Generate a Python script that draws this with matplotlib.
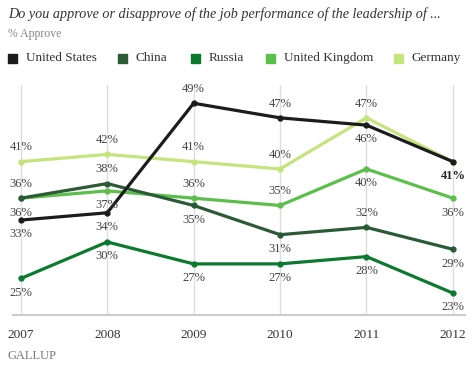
import matplotlib
matplotlib.use("Agg")
import matplotlib.pyplot as plt
from matplotlib.patches import Rectangle

years = [2007, 2008, 2009, 2010, 2011, 2012]
united_states = [33, 34, 49, 47, 46, 41]
china = [36, 38, 35, 31, 32, 29]
russia = [25, 30, 27, 27, 28, 23]
united_kingdom = [36, 37, 36, 35, 40, 36]
germany = [41, 42, 41, 40, 47, 41]

names = ["United States", "China", "Russia", "United Kingdom", "Germany"]
colors = ["#1c1c1c", "#2b5a37", "#0b7a2f", "#5cbf4c", "#c4e47c"]

# label placement per point: 1 above, -1 below, 0 none
us_pos = [-1, -1, 1, 1, -1, -1]
china_pos = [1, 1, -1, -1, 1, -1]
russia_pos = [-1, -1, -1, -1, -1, -1]
uk_pos = [-1, -1, 1, 1, -1, -1]
germany_pos = [1, 1, 1, 1, 1, 0]

series = [united_states, china, russia, united_kingdom, germany]
positions = [us_pos, china_pos, russia_pos, uk_pos, germany_pos]

serif = ["Liberation Serif"]
txt = "#444444"

fig = plt.figure(figsize=(4.74, 3.72), dpi=100)
ax = fig.add_axes([13 / 474, 1 - 315 / 372, 452 / 474, 230 / 372])

for x in years:
    ax.axvline(x, color="#dddddd", lw=1, zorder=0)

# draw order: Germany behind, US on top
order = [4, 3, 1, 2, 0]
for i in order:
    ax.plot(years, series[i], color=colors[i], lw=2.3, marker="o", ms=3.5,
            zorder=2 + order.index(i))

for i in range(5):
    for x, v, p in zip(years, series[i], positions[i]):
        if p == 0:
            continue
        bold = (i == 0 and x == 2012)
        ax.annotate(f"{v}%", (x, v), xytext=(0, 6 * p), textcoords="offset points",
                    ha="center", va="bottom" if p > 0 else "top",
                    fontsize=9, color="#222222" if bold else txt,
                    fontweight="bold" if bold else "normal", family=serif, zorder=10)

ax.set_xlim(2006.91, 2012.14)
ax.set_ylim(20, 51.5)
ax.set_yticks([])
ax.set_xticks(years)
ax.set_xticklabels([str(y) for y in years], family=serif, fontsize=9.5, color="#333333")
ax.tick_params(axis="x", length=0, pad=10)
for s in ["top", "left", "right"]:
    ax.spines[s].set_visible(False)
ax.spines["bottom"].set_color("#cccccc")
ax.spines["bottom"].set_linewidth(1.5)

fig.text(8 / 474, 1 - 14 / 372, "Do you approve or disapprove of the job performance of the leadership of ...",
         family=serif, style="italic", fontsize=10.2, color="#333333", va="center")
fig.text(8 / 474, 1 - 34 / 372, "% Approve", family=serif, fontsize=8.5, color="#888888", va="center")

legend_x = [8, 118, 191, 266, 394]
for name, c, lx in zip(names, colors, legend_x):
    fig.patches.append(Rectangle((lx / 474, 1 - 63 / 372), 9 / 474, 9 / 372,
                                 transform=fig.transFigure, color=c))
    fig.text((lx + 18) / 474, 1 - 58 / 372, name, family=serif, fontsize=9.5,
             color="#333333", va="center")

fig.text(8 / 474, 1 - 356 / 372, "GALLUP", family=serif, fontsize=9, color="#777777", va="center")

fig.savefig("out.png", dpi=100)
